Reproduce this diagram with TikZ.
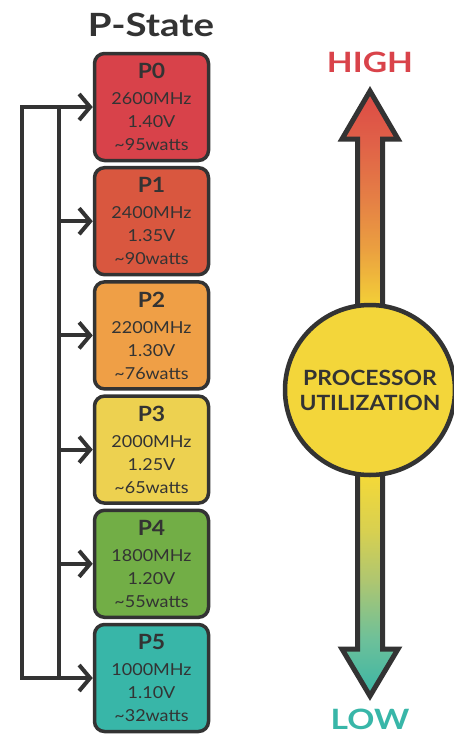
\documentclass[tikz,border=0pt]{standalone}
\usepackage{fontspec}
\setmainfont{Lato}
\newfontfamily\wideA[FakeStretch=1.2]{Lato}
\newfontfamily\wideB[FakeStretch=1.09]{Lato}
\usetikzlibrary{arrows.meta}
\definecolor{ink}{HTML}{333333}
\definecolor{cP0}{HTML}{D8424A}
\definecolor{cP1}{HTML}{D9573F}
\definecolor{cP2}{HTML}{EF9F46}
\definecolor{cP3}{HTML}{EDD150}
\definecolor{cP4}{HTML}{72AE46}
\definecolor{cP5}{HTML}{38B6A8}
\definecolor{hired}{HTML}{D9434A}
\definecolor{loteal}{HTML}{38B6A8}
\definecolor{circfill}{HTML}{F3D63A}
\definecolor{g0}{HTML}{3AB5A5}
\definecolor{g1}{HTML}{6CC09A}
\definecolor{g2}{HTML}{AFC670}
\definecolor{g3}{HTML}{D8D050}
\definecolor{g4}{HTML}{F2D83A}
\definecolor{g5}{HTML}{F3D63A}
\definecolor{g6}{HTML}{F2CC38}
\definecolor{g7}{HTML}{EBA040}
\definecolor{g8}{HTML}{E58045}
\definecolor{g9}{HTML}{E06048}
\definecolor{g10}{HTML}{DC4A45}
\pgfdeclareverticalshading{utilshade}{100bp}{color(0bp)=(g0); color(25bp)=(g0); color(29.6bp)=(g1); color(34.6bp)=(g2); color(38.7bp)=(g3); color(42.9bp)=(g4); color(50.3bp)=(g5); color(57.7bp)=(g6); color(61.9bp)=(g7); color(66bp)=(g8); color(70.9bp)=(g9); color(75bp)=(g10); color(100bp)=(g10)}
\tikzset{
  pbox/.style={draw=ink, line width=3.5pt, rounded corners=10pt, minimum width=114pt, minimum height=107pt, align=center, text=ink, inner sep=0pt, font=\wideB\fontsize{16.5}{23}\selectfont},
  wire/.style={draw=ink, line width=4pt},
  barb/.style={-{Straight Barb[length=11pt,width=26pt]}},
  bothbarb/.style={{Straight Barb[length=11pt,width=26pt]}-{Straight Barb[length=11pt,width=26pt]}},
}
\newcommand{\plabel}[1]{{\fontsize{21}{23}\selectfont\bfseries #1}\\[3pt]}
\begin{document}
\begin{tikzpicture}[x=1pt,y=-1pt]
\useasboundingbox (0,0) rectangle (454,734);
% title
\node[anchor=base, text=ink, font=\wideA\fontsize{32}{36}\selectfont\bfseries, inner sep=0pt] (title) at (151,36) {P-State};
% boxes
\node[pbox, fill=cP0] (p0) at (151.5,107) {\plabel{P0}2600MHz\\1.40V\\\textasciitilde95watts};
\node[pbox, fill=cP1] (p1) at (151.5,221.2) {\plabel{P1}2400MHz\\1.35V\\\textasciitilde90watts};
\node[pbox, fill=cP2] (p2) at (151.5,335.4) {\plabel{P2}2200MHz\\1.30V\\\textasciitilde76watts};
\node[pbox, fill=cP3] (p3) at (151.5,449.6) {\plabel{P3}2000MHz\\1.25V\\\textasciitilde65watts};
\node[pbox, fill=cP4] (p4) at (151.5,563.8) {\plabel{P4}1800MHz\\1.20V\\\textasciitilde55watts};
\node[pbox, fill=cP5] (p5) at (151.5,678) {\plabel{P5}1000MHz\\1.10V\\\textasciitilde32watts};
% connectors
\coordinate (oa) at (22,107);
\coordinate (ob) at (22,678);
\coordinate (ia) at (59,107);
\coordinate (ib) at (59,678);
\draw[wire, bothbarb] (p0.west) -- (oa) -- (ob) -- (p5.west);
\draw[wire] (ia) -- (ib);
\foreach \b in {p1,p2,p3,p4} {\draw[wire, barb] (ia |- \b.west) -- (\b.west);}
% utilization arrow
\draw[draw=ink, line width=5pt, shading=utilshade]
  (370,91) -- (398,139) -- (382.5,139) -- (382.5,649) -- (398,649) -- (370,696)
  -- (342,649) -- (357.5,649) -- (357.5,139) -- (342,139) -- cycle;
\node[circle, draw=ink, line width=4.5pt, fill=circfill, minimum size=170pt, inner sep=0pt, align=center, text=ink, font=\wideB\fontsize{21}{25}\selectfont\bfseries] (util) at (370,390) {PROCESSOR\\UTILIZATION};
\node[text=hired, font=\wideA\fontsize{28}{30}\selectfont\bfseries, inner sep=0pt, anchor=base] (high) at (370,72) {HIGH};
\node[text=loteal, font=\wideA\fontsize{28}{30}\selectfont\bfseries, inner sep=0pt, anchor=base] (low) at (370,729) {LOW};
\end{tikzpicture}
\end{document}
